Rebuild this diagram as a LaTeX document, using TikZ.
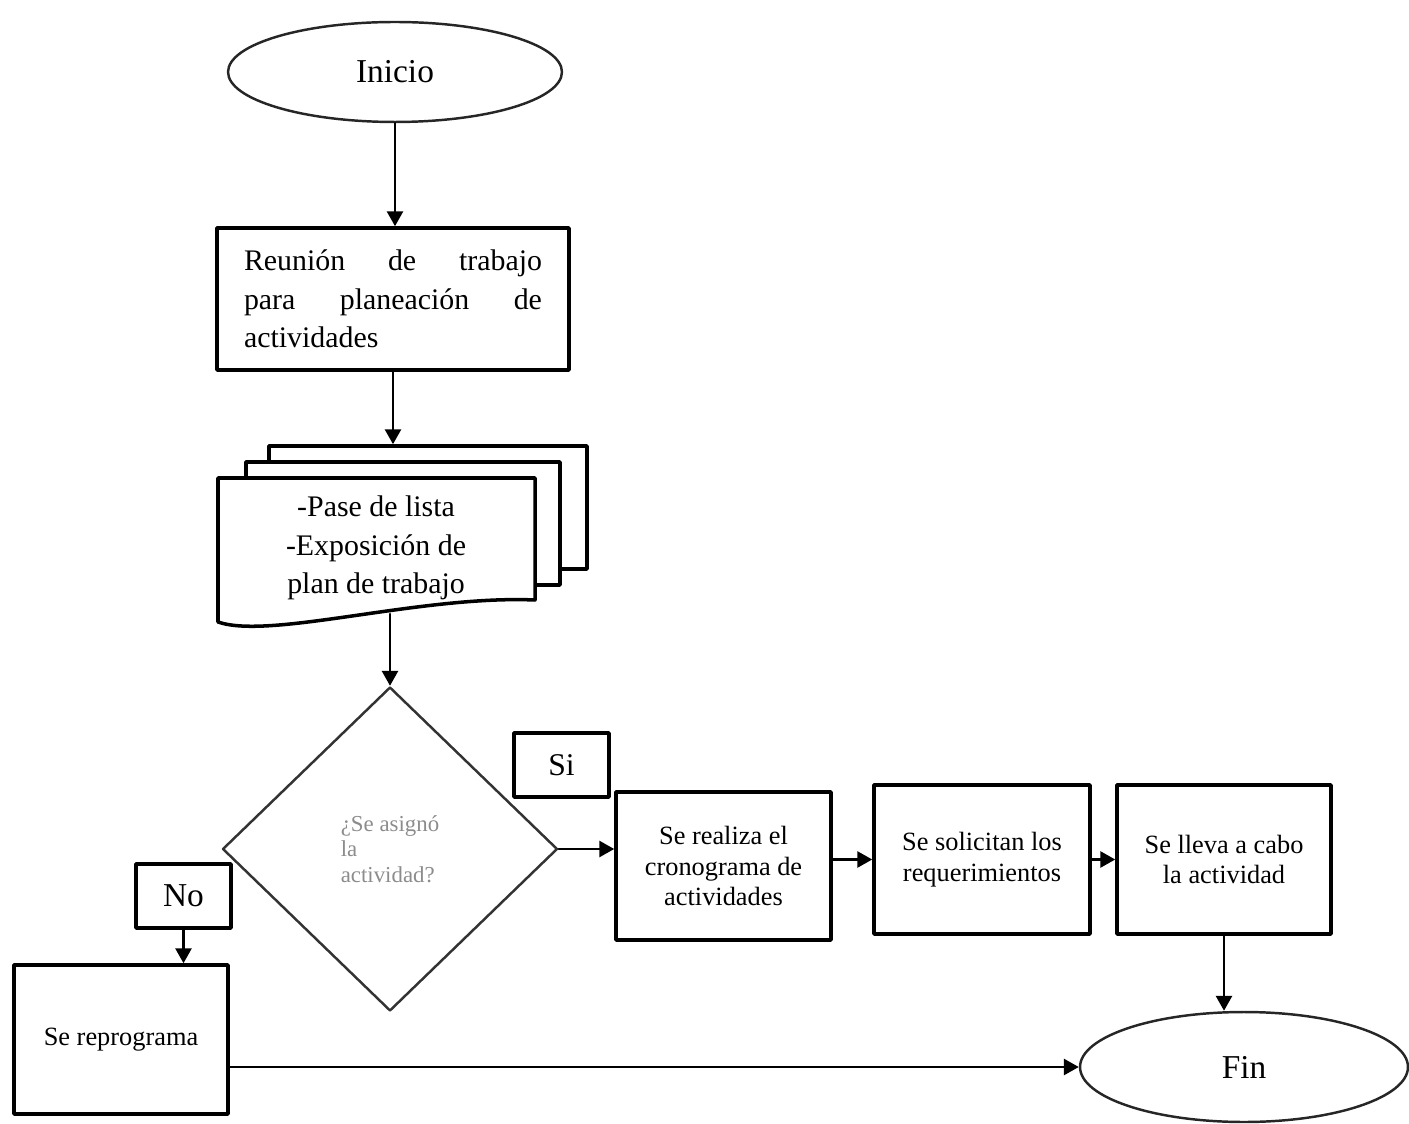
\documentclass[tikz,border=0pt]{standalone}
\usepackage{fontspec}
\setmainfont{Liberation Serif}
\usetikzlibrary{shapes.geometric, arrows.meta}

\begin{document}
\begin{tikzpicture}[x=0.02cm, y=-0.02cm, line cap=round, line join=round,
    >={Triangle[length=0.3cm, width=0.32cm]},
    caja/.style={draw, line width=2pt, fill=white, inner sep=0pt, align=center, font=\fontsize{15}{17.5}\selectfont},
    hoja/.style={draw, line width=2pt, fill=white, inner sep=0pt, minimum height=2.46cm},
    elipse/.style={ellipse, draw=black!85, line width=1.4pt, inner sep=0pt, font=\fontsize{19}{22}\selectfont},
    flecha/.style={->, line width=1.6pt}]

    % Page size
    \useasboundingbox (0,0) rectangle (1409,1124);

    % Start
    \node[elipse, minimum width=6.68cm, minimum height=2cm] (inicio) at (395,72) {Inicio};

    % Planning meeting
    \node[caja, minimum width=7.04cm, minimum height=2.84cm, text width=5.96cm, align=justify,
        font=\fontsize{17}{22}\selectfont] (reunion) at (393,299)
        {Reunión de trabajo\linebreak para planeación de\linebreak actividades};

    % Document stack
    \node[hoja, minimum width=6.36cm] (hoja3) at (428,507.5) {};
    \node[hoja, minimum width=6.28cm] (hoja2) at (403,523.5) {};
    \draw[line width=2pt, fill=white] (218,478) -- (535,478) -- (535,600)
        .. controls (420,595) and (270,640) .. (218,622) -- cycle;
    \node[align=center, font=\fontsize{17}{22}\selectfont] (lista) at (376,548)
        {-Pase de lista\\-Exposición de\\plan de trabajo};
    \coordinate (ola) at (390,614);

    % Decision
    \node[diamond, draw=black!80, line width=1.4pt, minimum width=6.7cm, minimum height=6.48cm,
        inner sep=0pt, align=left, text=black!45, font=\fontsize{13}{14.5}\selectfont] (asigno) at (390,849)
        {¿Se asignó\\la\\actividad?};
    \node[caja, minimum width=1.9cm, minimum height=1.28cm, font=\fontsize{18}{22}\selectfont] (si) at (561.5,765) {Si};
    \node[caja, minimum width=1.9cm, minimum height=1.28cm, font=\fontsize{19}{22}\selectfont] (no) at (183.5,896) {No};

    % Steps
    \node[caja, minimum width=4.3cm, minimum height=2.96cm] (crono) at (723.5,866)
        {Se realiza el\\cronograma de\\actividades};
    \node[caja, minimum width=4.32cm, minimum height=2.98cm] (solicitan) at (982,859.5)
        {Se solicitan los\\requerimientos};
    \node[caja, minimum width=4.28cm, minimum height=2.98cm] (lleva) at (1224,859.5)
        {Se lleva a cabo\\la actividad};
    \node[caja, minimum width=4.28cm, minimum height=2.98cm] (repro) at (121,1039.5) {Se reprograma};

    % End
    \node[elipse, minimum width=6.56cm, minimum height=2.2cm] (fin) at (1244,1067) {Fin};

    % Connectors
    \draw[flecha] (inicio.south) -- (inicio.south |- reunion.north);
    \draw[flecha] (reunion.south) -- (reunion.south |- hoja3.north);
    \draw[flecha] (ola) -- (asigno.north);
    \draw[flecha] (asigno.east) -- (asigno.east -| crono.west);
    \draw[flecha] (solicitan.west -| crono.east) -- (solicitan.west);
    \draw[flecha] (solicitan.east) -- (lleva.west);
    \draw[flecha] (lleva.south) -- (lleva.south |- fin.north);
    \draw[flecha] (no.south) -- (no.south |- repro.north);
    \draw[flecha] (repro.east |- fin.west) -- (fin.west);

\end{tikzpicture}
\end{document}
